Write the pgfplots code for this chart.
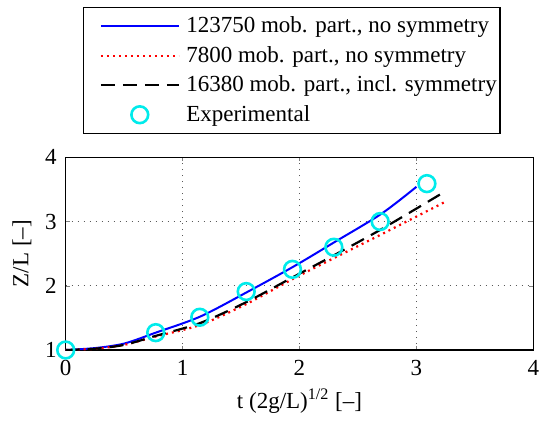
\documentclass[border=0pt]{standalone}
\usepackage{fontspec}
\setmainfont{Liberation Serif}
\usepackage{pgfplots}
\pgfplotsset{compat=1.18}
\definecolor{mblue}{RGB}{0,0,255}
\definecolor{mred}{RGB}{255,0,0}
\definecolor{mcyan}{RGB}{0,235,235}
\newcommand{\fs}{\rmfamily\fontsize{11.5}{13.8}\selectfont}
\pgfplotsset{
  linelegend/.style={legend image code/.code={\path (0pt,0pt); \draw[##1] (7.8pt,0pt) -- (46.8pt,0pt);}},
  marklegend/.style={legend image code/.code={\path (0pt,0pt) (46.8pt,0pt); \draw[##1] plot coordinates {(27.3pt,0pt)};}},
}
\begin{document}
\begin{tikzpicture}
\begin{axis}[
  name=ax,
  width=233.8pt, height=96.35pt, scale only axis,
  xmin=0, xmax=4, ymin=1, ymax=4,
  xtick={0,1,2,3,4}, ytick={1,2,3,4},
  /pgf/number format/assume math mode=true,
  tick label style={font=\fs},
  xticklabel style={yshift=-1.5pt},
  yticklabel style={xshift=-1pt},
  label style={font=\fs},
  xlabel={t (2g/L)\textsuperscript{1/2} [--]},
  ylabel={Z/L [--]},
  grid=major, grid style={black!65, dash pattern=on 0.5pt off 2.5pt, line width=0.4pt},
  tick align=inside, major tick length=2pt,
  axis line style={line width=0.6pt},
  legend style={at={(0.0376,1.78)}, anchor=north west,
    font=\fs, draw=black, line width=0.6pt,
    row sep=1.3pt, inner xsep=0pt, inner ysep=2.5pt,
    nodes={inner xsep=1.6pt},
    /tikz/every odd column/.append style={column sep=1.5pt}},
  legend cell align=left,
  linelegend,
]
\addplot[mblue, line width=1pt, smooth] coordinates {
  (0,1) (0.25,1.03) (0.5,1.1) (0.77,1.27) (1.15,1.52) (1.55,1.9)
  (1.95,2.3) (2.3,2.68) (2.7,3.12) (3.0,3.54)};
\addplot[mred, line width=1.1pt, dash pattern=on 1pt off 2pt, smooth] coordinates {
  (0,1) (0.25,1.02) (0.5,1.08) (0.77,1.21) (1.15,1.39) (1.55,1.72)
  (2.0,2.16) (2.7,2.8) (3.25,3.31)};
\addplot[black, line width=1.1pt, dash pattern=on 7pt off 4pt, smooth] coordinates {
  (0,1) (0.25,1.02) (0.5,1.08) (0.77,1.22) (1.15,1.42) (1.55,1.75)
  (1.95,2.14) (2.3,2.48) (2.7,2.88) (3.22,3.44)};
\addplot[only marks, mark=o, mark size=4.2pt, mcyan, line width=1.3pt, marklegend]
  coordinates {
  (0,1) (0.77,1.27) (1.147,1.51) (1.544,1.91) (1.94,2.256)
  (2.294,2.60) (2.69,3.0) (3.09,3.59)};
\legend{{123750 mob. part., no symmetry}, {7800 mob. part., no symmetry},
  {16380 mob. part., incl. symmetry}, {Experimental}}
\end{axis}
\pgfresetboundingbox
\path ([shift={(-32.85pt,-36.5pt)}]ax.south west) rectangle ([shift={(3.35pt,78.65pt)}]ax.north east);
\end{tikzpicture}
\end{document}
